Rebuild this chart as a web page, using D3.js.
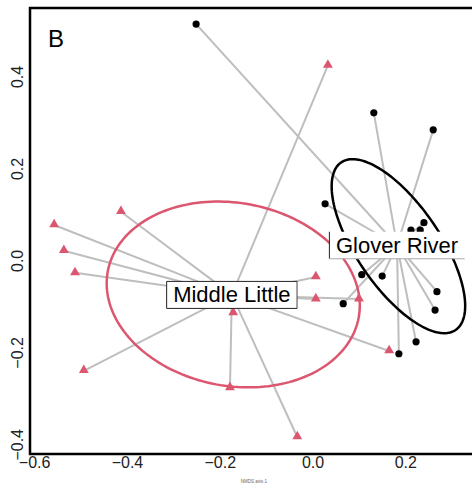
<!DOCTYPE html>
<html>
<head>
<meta charset="utf-8">
<script src="https://cdn.jsdelivr.net/npm/d3@7"></script>
<style>
  html, body { margin: 0; padding: 0; background: #fff; }
  svg { display: block; }
  text { font-family: "Liberation Sans", Arial, sans-serif; }
</style>
</head>
<body>
<div id="chart"></div>
<script>
// Site scores on the two ordination axes
const gloverX = [-0.252, 0.131, 0.259, 0.026, 0.211, 0.231, 0.239, 0.105, 0.149, 0.267, 0.263, 0.222, 0.185, 0.065];
const gloverY = [0.515, 0.322, 0.285, 0.124, 0.067, 0.067, 0.083, -0.030, -0.033, -0.067, -0.107, -0.176, -0.202, -0.093];
const middleX = [0.032, -0.414, -0.558, -0.537, -0.513, -0.494, -0.172, -0.179, 0.006, 0.006, 0.099, 0.164, -0.034];
const middleY = [0.425, 0.107, 0.078, 0.022, -0.026, -0.239, -0.113, -0.276, -0.035, -0.083, -0.083, -0.196, -0.383];

// Group centres (spider hubs / label anchors)
const groupNames = ["Glover River", "Middle Little"];
const centerX = [0.181, -0.175];
const centerY = [0.034, -0.074];

// Dispersion ellipses: semi-axes and rotation (degrees) in axis units
const ellipseCX = [0.184, -0.172];
const ellipseCY = [0.032, -0.073];
const ellipseA = [0.220, 0.275];
const ellipseB = [0.090, 0.199];
const ellipseAngle = [-56, -10.7];

const xTicks = [-0.6, -0.4, -0.2, 0.0, 0.2];
const yTicks = [-0.4, -0.2, 0.0, 0.2, 0.4];

const W = 472, H = 489;
const red = "#DC566F";

const svg = d3.select("#chart").append("svg").attr("width", W).attr("height", H);

const x = d3.scaleLinear().domain([-0.61, 0.4]).range([30, 30 + 1.01 * 464]);
const y = d3.scaleLinear().domain([-0.42, 0.55]).range([454, 8]);

const fmt = d3.format(".1f");

// Spiders
const groups = [
  { xs: gloverX, ys: gloverY },
  { xs: middleX, ys: middleY }
];
groups.forEach((g, gi) => {
  svg.append("g").selectAll("line").data(g.xs.map((v, i) => [v, g.ys[i]])).join("line")
    .attr("x1", x(centerX[gi])).attr("y1", y(centerY[gi]))
    .attr("x2", d => x(d[0])).attr("y2", d => y(d[1]))
    .attr("stroke", "#bebebe").attr("stroke-width", 2);
});

// Ellipses
const ellColors = ["#000", red];
ellipseCX.forEach((cx, i) => {
  const t = ellipseAngle[i] * Math.PI / 180;
  const pts = d3.range(0, 361, 2).map(deg => {
    const u = deg * Math.PI / 180;
    const ex = ellipseA[i] * Math.cos(u), ey = ellipseB[i] * Math.sin(u);
    return [x(cx + ex * Math.cos(t) - ey * Math.sin(t)), y(ellipseCY[i] + ex * Math.sin(t) + ey * Math.cos(t))];
  });
  svg.append("path").attr("d", d3.line()(pts) + "Z")
    .attr("fill", "none").attr("stroke", ellColors[i]).attr("stroke-width", 2.5);
});

// Points
svg.append("g").selectAll("circle").data(gloverX.map((v, i) => [v, gloverY[i]])).join("circle")
  .attr("cx", d => x(d[0])).attr("cy", d => y(d[1])).attr("r", 3.6).attr("fill", "#000");
const tri = d3.symbol().type(d3.symbolTriangle).size(42);
svg.append("g").selectAll("path").data(middleX.map((v, i) => [v, middleY[i]])).join("path")
  .attr("d", tri).attr("transform", d => `translate(${x(d[0])},${y(d[1]) - 0.5})`).attr("fill", red);

// Group labels on white boxes
const edgeStyles = [
  { left: "#222", top: "none", right: "none", bottom: "#aaa" },
  { left: "#222", top: "#222", right: "#444", bottom: "#222" }
];
groupNames.forEach((name, i) => {
  const g = svg.append("g");
  const r = g.append("rect");
  const t = g.append("text").attr("x", x(centerX[i])).attr("y", y(centerY[i]))
    .attr("text-anchor", "middle").attr("dominant-baseline", "central")
    .attr("font-size", 22).attr("fill", "#000").text(name);
  const w = t.node().getComputedTextLength() + 13;
  const x0 = x(centerX[i]) - w / 2, y0 = y(centerY[i]) - 13.5, x1 = x0 + w, y1 = y0 + 27;
  r.attr("x", x0).attr("y", y0).attr("width", w).attr("height", 27).attr("fill", "#fff");
  const es = edgeStyles[i];
  [["left", x0, y0, x0, y1], ["top", x0, y0, x1, y0], ["right", x1, y0, x1, y1], ["bottom", x0, y1, x1, y1]]
    .forEach(([k, a, b, c, d]) => {
      if (es[k] === "none") return;
      g.append("line").attr("x1", a).attr("y1", b).attr("x2", c).attr("y2", d)
        .attr("stroke", es[k]).attr("stroke-width", 1);
    });
});

// Frame
svg.append("path")
  .attr("d", `M${W + 5},${y.range()[1]} H${x.range()[0]} V${y.range()[0]} H${W + 5}`)
  .attr("fill", "none").attr("stroke", "#000").attr("stroke-width", 2.5);

// Tick labels
svg.append("g").selectAll("text").data(xTicks).join("text")
  .attr("x", d => x(d)).attr("y", 468).attr("text-anchor", "middle")
  .attr("font-size", 16).attr("fill", "#222").text(fmt);
svg.append("g").selectAll("text").data(yTicks).join("text")
  .attr("transform", d => `translate(22.5,${y(d)}) rotate(-90)`).attr("text-anchor", "middle")
  .attr("font-size", 16).attr("fill", "#222").text(fmt);

// Panel letter
svg.append("text").attr("x", 48).attr("y", 47).attr("font-size", 24).attr("fill", "#000").text("B");

// Axis caption
svg.append("text").attr("x", 254).attr("y", 483).attr("text-anchor", "middle")
  .attr("font-size", 4.5).attr("fill", "#666").text("NMDS axis 1");
</script>
</body>
</html>
